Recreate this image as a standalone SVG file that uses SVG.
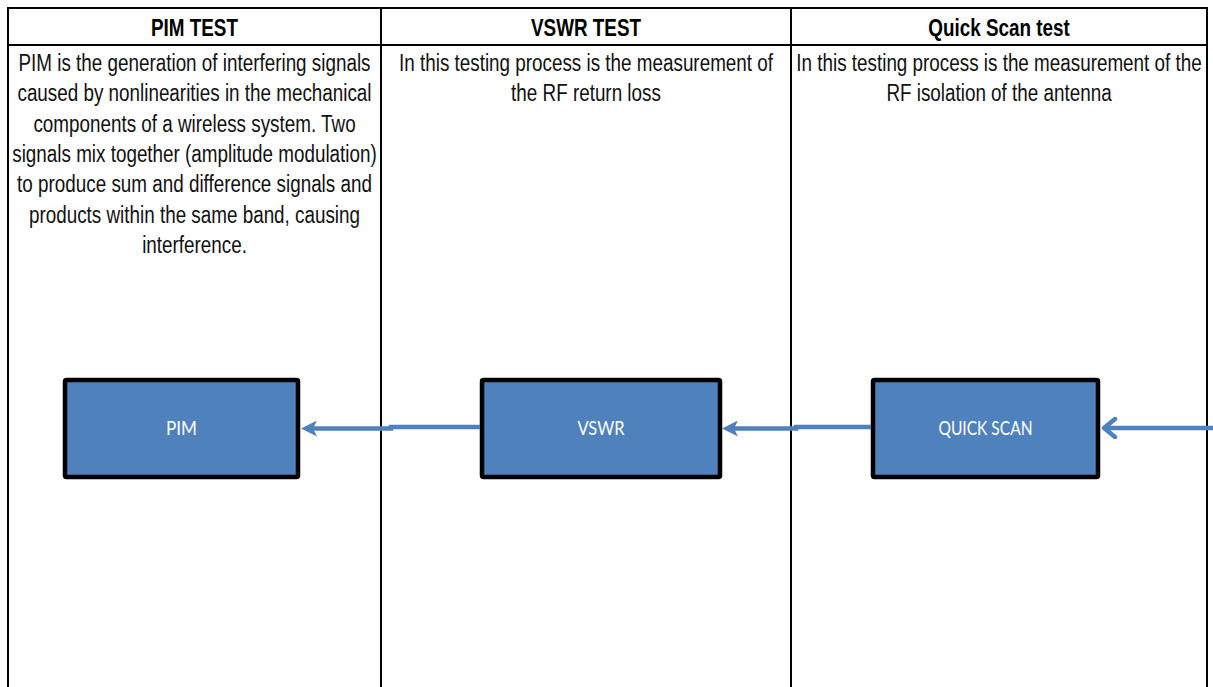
<svg xmlns="http://www.w3.org/2000/svg" width="1213" height="687" viewBox="0 0 1213 687">
<style>
.grid{stroke:#000;stroke-width:2;fill:none}
.hd{font-family:"Liberation Sans",Arial,sans-serif;font-weight:bold;font-size:23px;fill:#000;text-anchor:middle}
.bd{font-family:"Liberation Sans",Arial,sans-serif;font-size:23px;fill:#111;text-anchor:middle}
.box{fill:#4F81BD;stroke:#000;stroke-width:4.5}
.lbl{font-family:Lato,"Open Sans",sans-serif;font-size:20px;fill:#fff;text-anchor:middle}
.conn{stroke:#4F81BD;stroke-width:4.5;fill:none}
</style>
<defs>
<marker id="tri" viewBox="0 0 16 16" refX="7" refY="8" markerWidth="16" markerHeight="16" markerUnits="userSpaceOnUse" orient="auto">
<path d="M0,0 L16,8 L0,16 L4,8 z" fill="#4F81BD"/>
</marker>
<marker id="chev" viewBox="0 0 18 22" refX="15" refY="11" markerWidth="18" markerHeight="22" markerUnits="userSpaceOnUse" orient="auto">
<path d="M4,2 L15,11 L4,20" fill="none" stroke="#4F81BD" stroke-width="4.5" stroke-linecap="round" stroke-linejoin="round"/>
</marker>
</defs>
<rect width="1213" height="687" fill="#fff"/>
<g id="table">
<path class="grid" d="M8,687 V8 H1207 V687 M381,8 V687 M791,8 V687 M8,45 H1207"/>
</g>
<g id="col-pim">
<text class="hd" transform="translate(194.5,36) scale(0.82,1)">PIM TEST</text>
<text class="bd" transform="translate(194.5,71) scale(0.82,1)">PIM is the generation of interfering signals</text>
<text class="bd" transform="translate(194.5,101.3) scale(0.82,1)">caused by nonlinearities in the mechanical</text>
<text class="bd" transform="translate(194.5,131.6) scale(0.82,1)">components of a wireless system. Two</text>
<text class="bd" transform="translate(194.5,161.9) scale(0.82,1)">signals mix together (amplitude modulation)</text>
<text class="bd" transform="translate(194.5,192.2) scale(0.82,1)">to produce sum and difference signals and</text>
<text class="bd" transform="translate(194.5,222.5) scale(0.82,1)">products within the same band, causing</text>
<text class="bd" transform="translate(194.5,252.8) scale(0.82,1)">interference.</text>
</g>
<g id="col-vswr">
<text class="hd" transform="translate(586,36) scale(0.82,1)">VSWR TEST</text>
<text class="bd" transform="translate(586,71) scale(0.82,1)">In this testing process is the measurement of</text>
<text class="bd" transform="translate(586,101.3) scale(0.82,1)">the RF return loss</text>
</g>
<g id="col-quick">
<text class="hd" transform="translate(999,36) scale(0.82,1)">Quick Scan test</text>
<text class="bd" transform="translate(999,71) scale(0.82,1)">In this testing process is the measurement of the</text>
<text class="bd" transform="translate(999,101.3) scale(0.82,1)">RF isolation of the antenna</text>
</g>
<g id="node-pim">
<rect class="box" x="65" y="380" width="233" height="97" rx="1.5"/>
<text class="lbl" x="181.5" y="435" textLength="31" lengthAdjust="spacingAndGlyphs">PIM</text>
</g>
<g id="node-vswr">
<rect class="box" x="482" y="380" width="238" height="97" rx="1.5"/>
<text class="lbl" x="601" y="435" textLength="47" lengthAdjust="spacingAndGlyphs">VSWR</text>
</g>
<g id="node-quick">
<rect class="box" x="873" y="380" width="225" height="97" rx="1.5"/>
<text class="lbl" x="985.5" y="435" textLength="94" lengthAdjust="spacingAndGlyphs">QUICK SCAN</text>
</g>
<g id="connectors">
<path class="conn" d="M480,427 H391 V428.5 H310" marker-end="url(#tri)"/>
<path class="conn" d="M871,427 H796 V428.5 H731" marker-end="url(#tri)"/>
<path class="conn" d="M1213,428 H1104" marker-end="url(#chev)"/>
</g>
</svg>
